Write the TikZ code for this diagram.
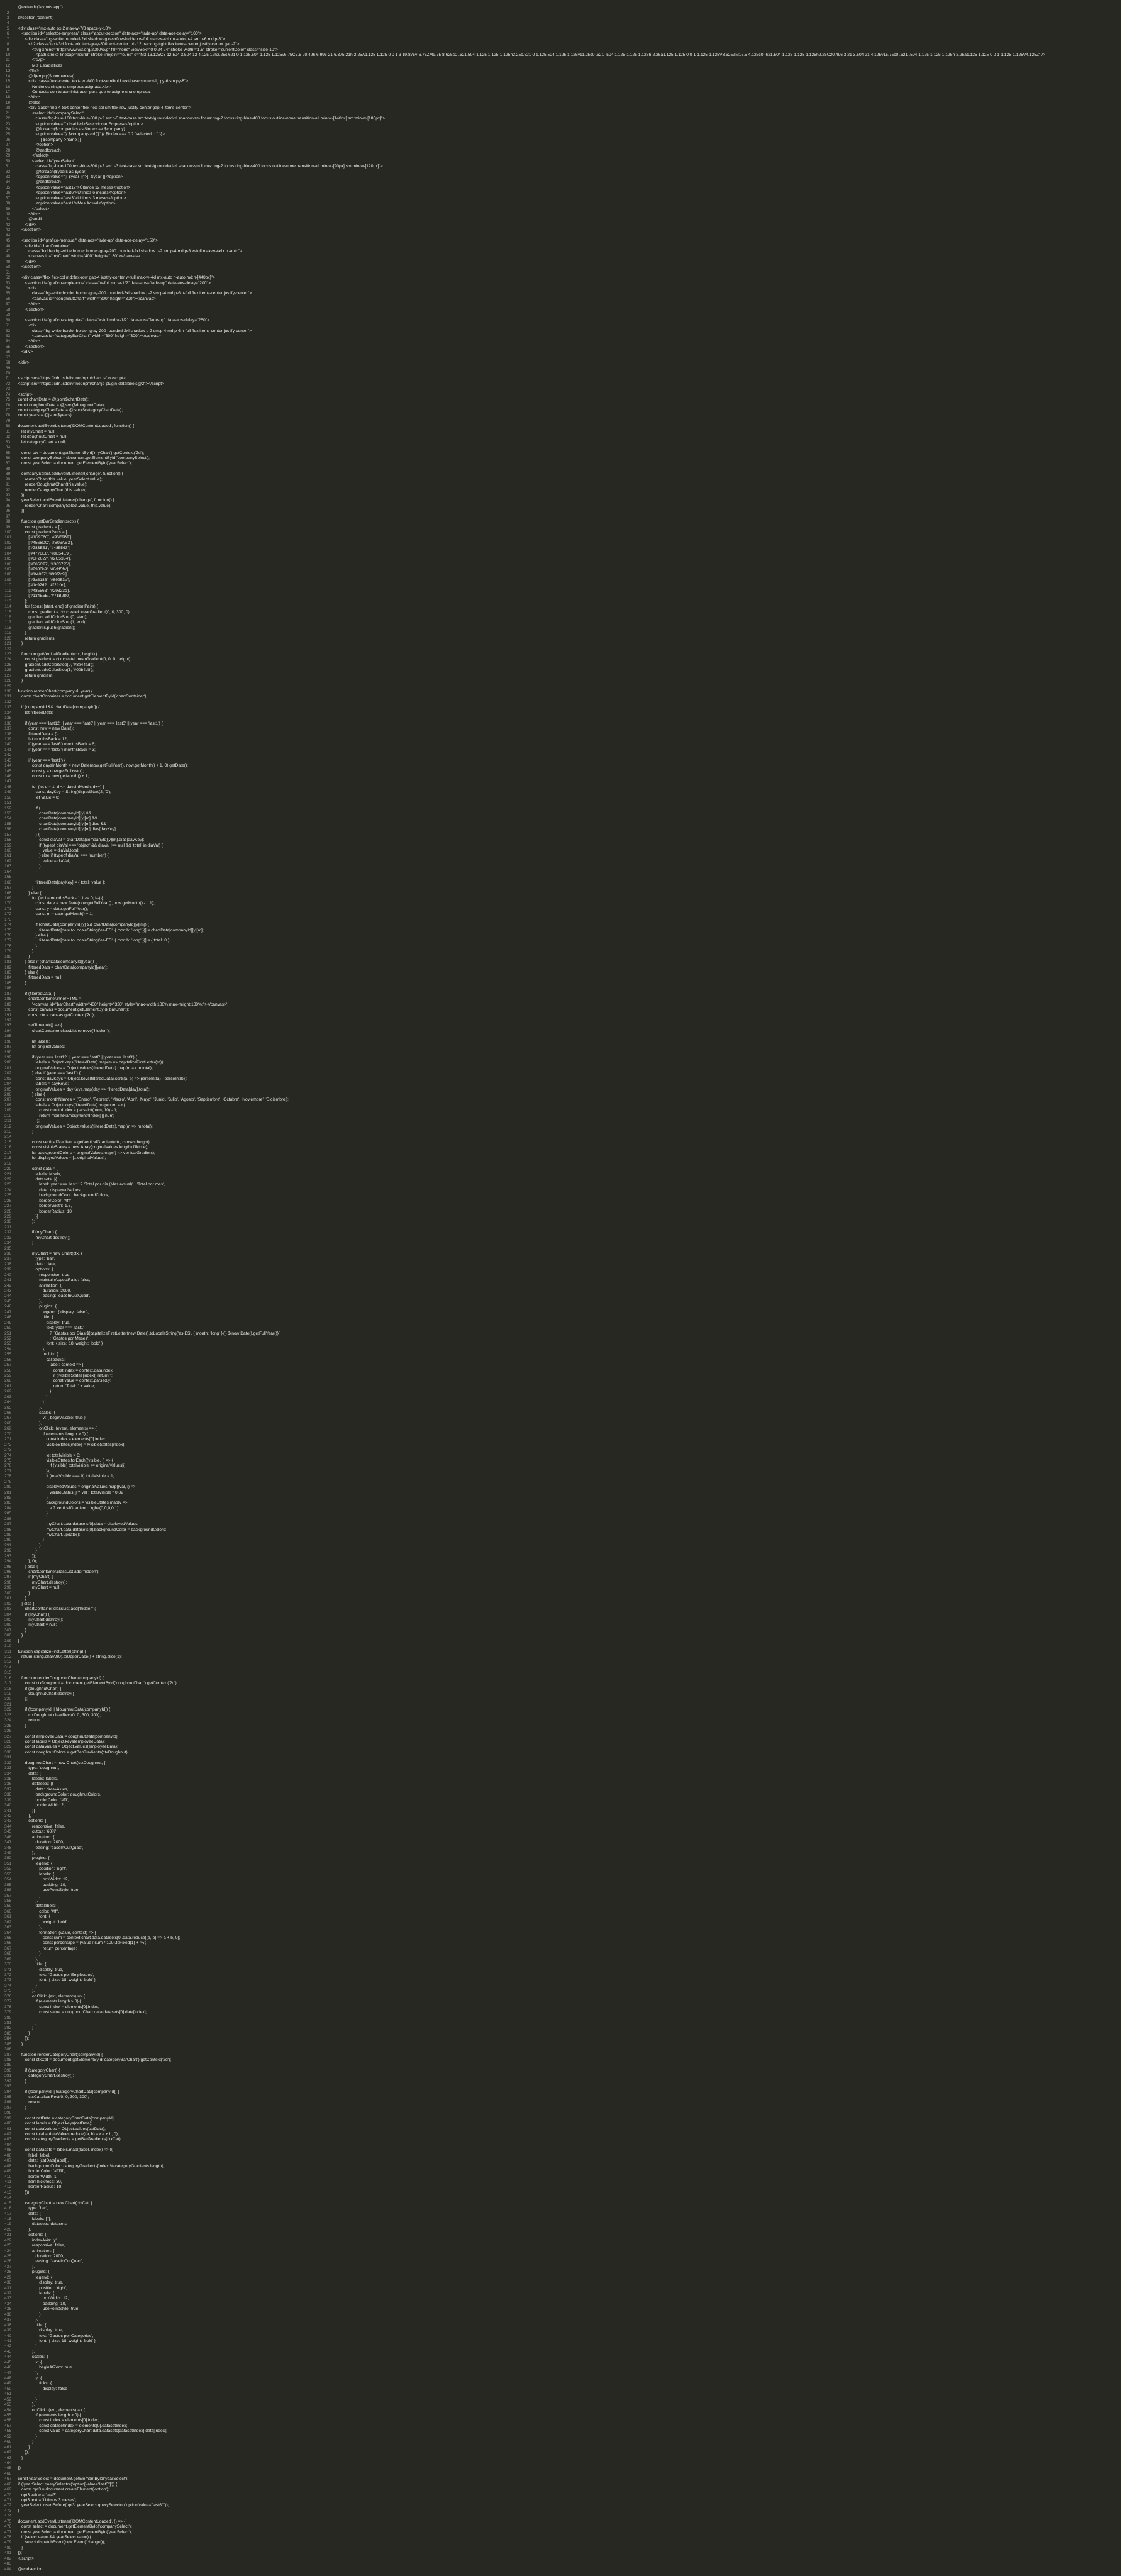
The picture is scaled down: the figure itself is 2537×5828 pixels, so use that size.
\documentclass[tikz,border=0pt]{standalone}
\usepackage{fontspec}
\newfontfamily\codefont{Liberation Sans}[Ligatures=TeXOff]
\definecolor{bgc}{HTML}{272822}
\definecolor{txc}{HTML}{F4F4EE}
\definecolor{nmc}{HTML}{8F908A}
\newcount\clno
\clno=0
\tikzset{
  codetext/.style={anchor=base west,inner sep=0pt,outer sep=0pt,text=txc,font=\codefont\fontsize{9.5}{12}\selectfont},
  numtext/.style={anchor=base,inner sep=0pt,outer sep=0pt,text=nmc,font=\codefont\fontsize{9.5}{12}\selectfont}
}
\newcommand\CL[2]{\global\advance\clno by 1
  \node[numtext] (n\the\clno) at (18,7.3+12*\the\clno) {\the\clno};
  \node[codetext] (c\the\clno) at (40.7+8*#1,7.3+12*\the\clno) {#2};}
\newcommand\EL{\global\advance\clno by 1
  \node[numtext] (n\the\clno) at (18,7.3+12*\the\clno) {\the\clno};}
\begin{document}
\begin{tikzpicture}[x=1pt,y=-1pt]
\useasboundingbox (0,0) rectangle (2537,5828);
\fill[bgc] (0,0) rectangle (2537,5828);
\CL0{@extends('layouts.app')}
\EL
\CL0{@section('content')}
\EL
\CL0{<div class="mx-auto px-2 max-w-7/8 space-y-10">}
\CL1{<section id="selector-empresa" class="about-section" data-aos="fade-up" data-aos-delay="100">}
\CL2{<div class="bg-white rounded-2xl shadow-lg overflow-hidden w-full max-w-4xl mx-auto p-4 sm:p-6 md:p-8">}
\CL3{<h2 class="text-3xl font-bold text-gray-800 text-center mb-12 tracking-tight flex items-center justify-center gap-2">}
\CL4{<svg xmlns="http://www.w3.org/2000/svg" fill="none" viewBox="0 0 24 24" stroke-width="1.5" stroke="currentColor" class="size-10">}
\CL5{<path stroke-linecap="round" stroke-linejoin="round" d="M3 13.125C3 12.504 3.504 12 4.125 12h2.25c.621 0 1.125.504 1.125 1.125v6.75C7.5 20.496 6.996 21 6.375 21h-2.25A1.125 1.125 0 0 1 3 19.875v-6.75ZM9.75 8.625c0-.621.504-1.125 1.125-1.125h2.25c.621 0 1.125.504 1.125 1.125v11.25c0 .621-.504 1.125-1.125 1.125h-2.25a1.125 1.125 0 0 1-1.125-1.125V8.625ZM16.5 4.125c0-.621.504-1.125 1.125-1.125h2.25C20.496 3 21 3.504 21 4.125v15.75c0 .621-.504 1.125-1.125 1.125h-2.25a1.125 1.125 0 0 1-1.125-1.125V4.125Z" />}
\CL4{</svg>}
\CL4{Mis Estadísticas}
\CL3{</h2>}
\CL3{@if(empty(\$companies))}
\CL3{<div class="text-center text-red-600 font-semibold text-base sm:text-lg py-6 sm:py-8">}
\CL4{No tienes ninguna empresa asignada.<br>}
\CL4{Contacta con tu administrador para que te asigne una empresa.}
\CL3{</div>}
\CL3{@else}
\CL3{<div class="mb-4 text-center flex flex-col sm:flex-row justify-center gap-4 items-center">}
\CL4{<select id="companySelect"}
\CL5{class="bg-blue-100 text-blue-800 p-2 sm:p-3 text-base sm:text-lg rounded-xl shadow-sm focus:ring-2 focus:ring-blue-400 focus:outline-none transition-all min-w-[140px] sm:min-w-[180px]">}
\CL5{<option value="" disabled>Seleccionar Empresa</option>}
\CL5{@foreach(\$companies as \$index => \$company)}
\CL5{<option value="\{\{ \$company->id \}\}" \{\{ \$index === 0 ? 'selected' : '' \}\}>}
\CL6{\{\{ \$company->name \}\}}
\CL5{</option>}
\CL5{@endforeach}
\CL4{</select>}
\CL4{<select id="yearSelect"}
\CL5{class="bg-blue-100 text-blue-800 p-2 sm:p-3 text-base sm:text-lg rounded-xl shadow-sm focus:ring-2 focus:ring-blue-400 focus:outline-none transition-all min-w-[90px] sm:min-w-[120px]">}
\CL5{@foreach(\$years as \$year)}
\CL5{<option value="\{\{ \$year \}\}">\{\{ \$year \}\}</option>}
\CL5{@endforeach}
\CL5{<option value="last12">Últimos 12 meses</option>}
\CL5{<option value="last6">Últimos 6 meses</option>}
\CL5{<option value="last3">Últimos 3 meses</option>}
\CL5{<option value="last1">Mes Actual</option>}
\CL4{</select>}
\CL3{</div>}
\CL3{@endif}
\CL2{</div>}
\CL1{</section>}
\EL
\CL1{<section id="grafico-mensual" data-aos="fade-up" data-aos-delay="150">}
\CL2{<div id="chartContainer"}
\CL3{class="hidden bg-white border border-gray-200 rounded-2xl shadow p-2 sm:p-4 md:p-6 w-full max-w-4xl mx-auto">}
\CL3{<canvas id="myChart" width="400" height="180"></canvas>}
\CL2{</div>}
\CL1{</section>}
\EL
\CL1{<div class="flex flex-col md:flex-row gap-4 justify-center w-full max-w-4xl mx-auto h-auto md:h-[440px]">}
\CL2{<section id="grafico-empleados" class="w-full md:w-1/2" data-aos="fade-up" data-aos-delay="200">}
\CL3{<div}
\CL4{class="bg-white border border-gray-200 rounded-2xl shadow p-2 sm:p-4 md:p-6 h-full flex items-center justify-center">}
\CL4{<canvas id="doughnutChart" width="300" height="300"></canvas>}
\CL3{</div>}
\CL2{</section>}
\EL
\CL2{<section id="grafico-categorias" class="w-full md:w-1/2" data-aos="fade-up" data-aos-delay="250">}
\CL3{<div}
\CL4{class="bg-white border border-gray-200 rounded-2xl shadow p-2 sm:p-4 md:p-6 h-full flex items-center justify-center">}
\CL4{<canvas id="categoryBarChart" width="300" height="300"></canvas>}
\CL3{</div>}
\CL2{</section>}
\CL1{</div>}
\EL
\CL0{</div>}
\EL
\EL
\CL0{<script src="https://cdn.jsdelivr.net/npm/chart.js"></script>}
\CL0{<script src="https://cdn.jsdelivr.net/npm/chartjs-plugin-datalabels@2"></script>}
\EL
\CL0{<script>}
\CL0{const chartData = @json(\$chartData);}
\CL0{const doughnutData = @json(\$doughnutData);}
\CL0{const categoryChartData = @json(\$categoryChartData);}
\CL0{const years = @json(\$years);}
\EL
\CL0{document.addEventListener('DOMContentLoaded', function() \{}
\CL1{let myChart = null;}
\CL1{let doughnutChart = null;}
\CL1{let categoryChart = null;}
\EL
\CL1{const ctx = document.getElementById('myChart').getContext('2d');}
\CL1{const companySelect = document.getElementById('companySelect');}
\CL1{const yearSelect = document.getElementById('yearSelect');}
\EL
\CL1{companySelect.addEventListener('change', function() \{}
\CL2{renderChart(this.value, yearSelect.value);}
\CL2{renderDoughnutChart(this.value);}
\CL2{renderCategoryChart(this.value);}
\CL1{\});}
\CL1{yearSelect.addEventListener('change', function() \{}
\CL2{renderChart(companySelect.value, this.value);}
\CL1{\});}
\EL
\CL1{function getBarGradients(ctx) \{}
\CL2{const gradients = [];}
\CL2{const gradientPairs = [}
\CL3{['\#1D976C', '\#93F9B9'],}
\CL3{['\#4568DC', '\#B06AB3'],}
\CL3{['\#283E51', '\#485563'],}
\CL3{['\#4776E6', '\#8E54E9'],}
\CL3{['\#0F2027', '\#2C5364'],}
\CL3{['\#005C97', '\#363795'],}
\CL3{['\#2980b9', '\#6dd5fa'],}
\CL3{['\#1f4037', '\#99f2c9'],}
\CL3{['\#3a6186', '\#89253e'],}
\CL3{['\#1c92d2', '\#f2fcfe'],}
\CL3{['\#485563', '\#29323c'],}
\CL3{['\#134E5E', '\#71B280']}
\CL2{];}
\CL2{for (const [start, end] of gradientPairs) \{}
\CL3{const gradient = ctx.createLinearGradient(0, 0, 300, 0);}
\CL3{gradient.addColorStop(0, start);}
\CL3{gradient.addColorStop(1, end);}
\CL3{gradients.push(gradient);}
\CL2{\}}
\CL2{return gradients;}
\CL1{\}}
\EL
\CL1{function getVerticalGradient(ctx, height) \{}
\CL2{const gradient = ctx.createLinearGradient(0, 0, 0, height);}
\CL2{gradient.addColorStop(0, '\#8e44ad');}
\CL2{gradient.addColorStop(1, '\#00b4d8');}
\CL2{return gradient;}
\CL1{\}}
\EL
\CL0{function renderChart(companyId, year) \{}
\CL1{const chartContainer = document.getElementById('chartContainer');}
\EL
\CL1{if (companyId \&\& chartData[companyId]) \{}
\CL2{let filteredData;}
\EL
\CL2{if (year === 'last12' || year === 'last6' || year === 'last3' || year === 'last1') \{}
\CL3{const now = new Date();}
\CL3{filteredData = \{\};}
\CL3{let monthsBack = 12;}
\CL3{if (year === 'last6') monthsBack = 6;}
\CL3{if (year === 'last3') monthsBack = 3;}
\EL
\CL3{if (year === 'last1') \{}
\CL4{const daysInMonth = new Date(now.getFullYear(), now.getMonth() + 1, 0).getDate();}
\CL4{const y = now.getFullYear();}
\CL4{const m = now.getMonth() + 1;}
\EL
\CL4{for (let d = 1; d <= daysInMonth; d++) \{}
\CL5{const dayKey = String(d).padStart(2, '0');}
\CL5{let value = 0;}
\EL
\CL5{if (}
\CL6{chartData[companyId][y] \&\&}
\CL6{chartData[companyId][y][m] \&\&}
\CL6{chartData[companyId][y][m].dias \&\&}
\CL6{chartData[companyId][y][m].dias[dayKey]}
\CL5{) \{}
\CL6{const diaVal = chartData[companyId][y][m].dias[dayKey];}
\CL6{if (typeof diaVal === 'object' \&\& diaVal !== null \&\& 'total' in diaVal) \{}
\CL7{value = diaVal.total;}
\CL6{\} else if (typeof diaVal === 'number') \{}
\CL7{value = diaVal;}
\CL6{\}}
\CL5{\}}
\EL
\CL5{filteredData[dayKey] = \{ total: value \};}
\CL4{\}}
\CL3{\} else \{}
\CL4{for (let i = monthsBack - 1; i >= 0; i--) \{}
\CL5{const date = new Date(now.getFullYear(), now.getMonth() - i, 1);}
\CL5{const y = date.getFullYear();}
\CL5{const m = date.getMonth() + 1;}
\EL
\CL5{if (chartData[companyId][y] \&\& chartData[companyId][y][m]) \{}
\CL6{filteredData[date.toLocaleString('es-ES', \{ month: 'long' \})] = chartData[companyId][y][m];}
\CL5{\} else \{}
\CL6{filteredData[date.toLocaleString('es-ES', \{ month: 'long' \})] = \{ total: 0 \};}
\CL5{\}}
\CL4{\}}
\CL3{\}}
\CL2{\} else if (chartData[companyId][year]) \{}
\CL3{filteredData = chartData[companyId][year];}
\CL2{\} else \{}
\CL3{filteredData = null;}
\CL2{\}}
\EL
\CL2{if (filteredData) \{}
\CL3{chartContainer.innerHTML =}
\CL4{'<canvas id="barChart" width="400" height="320" style="max-width:100\%;max-height:100\%;"></canvas>';}
\CL3{const canvas = document.getElementById('barChart');}
\CL3{const ctx = canvas.getContext('2d');}
\EL
\CL3{setTimeout(() => \{}
\CL4{chartContainer.classList.remove('hidden');}
\EL
\CL4{let labels;}
\CL4{let originalValues;}
\EL
\CL4{if (year === 'last12' || year === 'last6' || year === 'last3') \{}
\CL5{labels = Object.keys(filteredData).map(m => capitalizeFirstLetter(m));}
\CL5{originalValues = Object.values(filteredData).map(m => m.total);}
\CL4{\} else if (year === 'last1') \{}
\CL5{const dayKeys = Object.keys(filteredData).sort((a, b) => parseInt(a) - parseInt(b));}
\CL5{labels = dayKeys;}
\CL5{originalValues = dayKeys.map(day => filteredData[day].total);}
\CL4{\} else \{}
\CL5{const monthNames = ['Enero', 'Febrero', 'Marzo', 'Abril', 'Mayo', 'Junio', 'Julio', 'Agosto', 'Septiembre', 'Octubre', 'Noviembre', 'Diciembre'];}
\CL5{labels = Object.keys(filteredData).map(num => \{}
\CL6{const monthIndex = parseInt(num, 10) - 1;}
\CL6{return monthNames[monthIndex] || num;}
\CL5{\});}
\CL5{originalValues = Object.values(filteredData).map(m => m.total);}
\CL4{\}}
\EL
\CL4{const verticalGradient = getVerticalGradient(ctx, canvas.height);}
\CL4{const visibleStates = new Array(originalValues.length).fill(true);}
\CL4{let backgroundColors = originalValues.map(() => verticalGradient);}
\CL4{let displayedValues = [...originalValues];}
\EL
\CL4{const data = \{}
\CL5{labels: labels,}
\CL5{datasets: [\{}
\CL6{label: year === 'last1' ? 'Total por día (Mes actual)' : 'Total por mes',}
\CL6{data: displayedValues,}
\CL6{backgroundColor: backgroundColors,}
\CL6{borderColor: '\#fff',}
\CL6{borderWidth: 1.5,}
\CL6{borderRadius: 10}
\CL5{\}]}
\CL4{\};}
\EL
\CL4{if (myChart) \{}
\CL5{myChart.destroy();}
\CL4{\}}
\EL
\CL4{myChart = new Chart(ctx, \{}
\CL5{type: 'bar',}
\CL5{data: data,}
\CL5{options: \{}
\CL6{responsive: true,}
\CL6{maintainAspectRatio: false,}
\CL6{animation: \{}
\CL7{duration: 2000,}
\CL7{easing: 'easeInOutQuad',}
\CL6{\},}
\CL6{plugins: \{}
\CL7{legend: \{ display: false \},}
\CL7{title: \{}
\CL8{display: true,}
\CL8{text: year === 'last1'}
\CL9{? `Gastos por Días \$\{capitalizeFirstLetter(new Date().toLocaleString('es-ES', \{ month: 'long' \}))\} \$\{new Date().getFullYear()\}`}
\CL9{: 'Gastos por Meses',}
\CL8{font: \{ size: 18, weight: 'bold' \}}
\CL7{\},}
\CL7{tooltip: \{}
\CL8{callbacks: \{}
\CL9{label: context => \{}
\CL{10}{const index = context.dataIndex;}
\CL{10}{if (!visibleStates[index]) return '';}
\CL{10}{const value = context.parsed.y;}
\CL{10}{return 'Total: ' + value;}
\CL9{\}}
\CL8{\}}
\CL7{\}}
\CL6{\},}
\CL6{scales: \{}
\CL7{y: \{ beginAtZero: true \}}
\CL6{\},}
\CL6{onClick: (event, elements) => \{}
\CL7{if (elements.length > 0) \{}
\CL8{const index = elements[0].index;}
\CL8{visibleStates[index] = !visibleStates[index];}
\EL
\CL8{let totalVisible = 0;}
\CL8{visibleStates.forEach((visible, i) => \{}
\CL9{if (visible) totalVisible += originalValues[i];}
\CL8{\});}
\CL8{if (totalVisible === 0) totalVisible = 1;}
\EL
\CL8{displayedValues = originalValues.map((val, i) =>}
\CL9{visibleStates[i] ? val : totalVisible * 0.02}
\CL8{);}
\CL8{backgroundColors = visibleStates.map(v =>}
\CL9{v ? verticalGradient : 'rgba(0,0,0,0.1)'}
\CL8{);}
\EL
\CL8{myChart.data.datasets[0].data = displayedValues;}
\CL8{myChart.data.datasets[0].backgroundColor = backgroundColors;}
\CL8{myChart.update();}
\CL7{\}}
\CL6{\}}
\CL5{\}}
\CL4{\});}
\CL3{\}, 0);}
\CL2{\} else \{}
\CL3{chartContainer.classList.add('hidden');}
\CL3{if (myChart) \{}
\CL4{myChart.destroy();}
\CL4{myChart = null;}
\CL3{\}}
\CL2{\}}
\CL1{\} else \{}
\CL2{chartContainer.classList.add('hidden');}
\CL2{if (myChart) \{}
\CL3{myChart.destroy();}
\CL3{myChart = null;}
\CL2{\}}
\CL1{\}}
\CL0{\}}
\EL
\CL0{function capitalizeFirstLetter(string) \{}
\CL1{return string.charAt(0).toUpperCase() + string.slice(1);}
\CL0{\}}
\EL
\EL
\CL1{function renderDoughnutChart(companyId) \{}
\CL2{const ctxDoughnut = document.getElementById('doughnutChart').getContext('2d');}
\CL2{if (doughnutChart) \{}
\CL3{doughnutChart.destroy()}
\CL2{\};}
\EL
\CL2{if (!companyId || !doughnutData[companyId]) \{}
\CL3{ctxDoughnut.clearRect(0, 0, 300, 300);}
\CL3{return;}
\CL2{\}}
\EL
\CL2{const employeeData = doughnutData[companyId];}
\CL2{const labels = Object.keys(employeeData);}
\CL2{const dataValues = Object.values(employeeData);}
\CL2{const doughnutColors = getBarGradients(ctxDoughnut);}
\EL
\CL2{doughnutChart = new Chart(ctxDoughnut, \{}
\CL3{type: 'doughnut',}
\CL3{data: \{}
\CL4{labels: labels,}
\CL4{datasets: [\{}
\CL5{data: dataValues,}
\CL5{backgroundColor: doughnutColors,}
\CL5{borderColor: '\#fff',}
\CL5{borderWidth: 2,}
\CL4{\}]}
\CL3{\},}
\CL3{options: \{}
\CL4{responsive: false,}
\CL4{cutout: '60\%',}
\CL4{animation: \{}
\CL5{duration: 2000,}
\CL5{easing: 'easeInOutQuad',}
\CL4{\},}
\CL4{plugins: \{}
\CL5{legend: \{}
\CL6{position: 'right',}
\CL6{labels: \{}
\CL7{boxWidth: 12,}
\CL7{padding: 10,}
\CL7{usePointStyle: true}
\CL6{\}}
\CL5{\},}
\CL5{datalabels: \{}
\CL6{color: '\#fff',}
\CL6{font: \{}
\CL7{weight: 'bold'}
\CL6{\},}
\CL6{formatter: (value, context) => \{}
\CL7{const sum = context.chart.data.datasets[0].data.reduce((a, b) => a + b, 0);}
\CL7{const percentage = (value / sum * 100).toFixed(1) + '\%';}
\CL7{return percentage;}
\CL6{\}}
\CL5{\},}
\CL5{title: \{}
\CL6{display: true,}
\CL6{text: 'Gastos por Empleados',}
\CL6{font: \{ size: 18, weight: 'bold' \}}
\CL5{\}}
\CL4{\},}
\CL4{onClick: (evt, elements) => \{}
\CL5{if (elements.length > 0) \{}
\CL6{const index = elements[0].index;}
\CL6{const value = doughnutChart.data.datasets[0].data[index];}
\EL
\CL5{\}}
\CL4{\}}
\CL3{\}}
\CL2{\});}
\CL1{\}}
\EL
\CL1{function renderCategoryChart(companyId) \{}
\CL2{const ctxCat = document.getElementById('categoryBarChart').getContext('2d');}
\EL
\CL2{if (categoryChart) \{}
\CL3{categoryChart.destroy();}
\CL2{\}}
\EL
\CL2{if (!companyId || !categoryChartData[companyId]) \{}
\CL3{ctxCat.clearRect(0, 0, 300, 300);}
\CL3{return;}
\CL2{\}}
\EL
\CL2{const catData = categoryChartData[companyId];}
\CL2{const labels = Object.keys(catData);}
\CL2{const dataValues = Object.values(catData);}
\CL2{const total = dataValues.reduce((a, b) => a + b, 0);}
\CL2{const categoryGradients = getBarGradients(ctxCat);}
\EL
\CL2{const datasets = labels.map((label, index) => (\{}
\CL3{label: label,}
\CL3{data: [catData[label]],}
\CL3{backgroundColor: categoryGradients[index \% categoryGradients.length],}
\CL3{borderColor: '\#ffffff',}
\CL3{borderWidth: 1,}
\CL3{barThickness: 30,}
\CL3{borderRadius: 10,}
\CL2{\}));}
\EL
\CL2{categoryChart = new Chart(ctxCat, \{}
\CL3{type: 'bar',}
\CL3{data: \{}
\CL4{labels: [''],}
\CL4{datasets: datasets}
\CL3{\},}
\CL3{options: \{}
\CL4{indexAxis: 'y',}
\CL4{responsive: false,}
\CL4{animation: \{}
\CL5{duration: 2000,}
\CL5{easing: 'easeInOutQuad',}
\CL4{\},}
\CL4{plugins: \{}
\CL5{legend: \{}
\CL6{display: true,}
\CL6{position: 'right',}
\CL6{labels: \{}
\CL7{boxWidth: 12,}
\CL7{padding: 10,}
\CL7{usePointStyle: true}
\CL6{\}}
\CL5{\},}
\CL5{title: \{}
\CL6{display: true,}
\CL6{text: 'Gastos por Categorias',}
\CL6{font: \{ size: 18, weight: 'bold' \}}
\CL5{\}}
\CL4{\},}
\CL4{scales: \{}
\CL5{x: \{}
\CL6{beginAtZero: true}
\CL5{\},}
\CL5{y: \{}
\CL6{ticks: \{}
\CL7{display: false}
\CL6{\}}
\CL5{\}}
\CL4{\},}
\CL4{onClick: (evt, elements) => \{}
\CL5{if (elements.length > 0) \{}
\CL6{const index = elements[0].index;}
\CL6{const datasetIndex = elements[0].datasetIndex;}
\CL6{const value = categoryChart.data.datasets[datasetIndex].data[index];}
\CL5{\}}
\CL4{\}}
\CL3{\}}
\CL2{\});}
\CL1{\}}
\EL
\CL0{\})}
\EL
\CL0{const yearSelect = document.getElementById('yearSelect');}
\CL0{if (!yearSelect.querySelector('option[value="last3"]')) \{}
\CL1{const opt3 = document.createElement('option');}
\CL1{opt3.value = 'last3';}
\CL1{opt3.text = 'Últimos 3 meses';}
\CL1{yearSelect.insertBefore(opt3, yearSelect.querySelector('option[value="last6"]'));}
\CL0{\}}
\EL
\CL0{document.addEventListener('DOMContentLoaded', () => \{}
\CL1{const select = document.getElementById('companySelect');}
\CL1{const yearSelect = document.getElementById('yearSelect');}
\CL1{if (select.value \&\& yearSelect.value) \{}
\CL2{select.dispatchEvent(new Event('change'));}
\CL1{\}}
\CL0{\});}
\CL0{</script>}
\EL
\CL0{@endsection}
\end{tikzpicture}
\end{document}
